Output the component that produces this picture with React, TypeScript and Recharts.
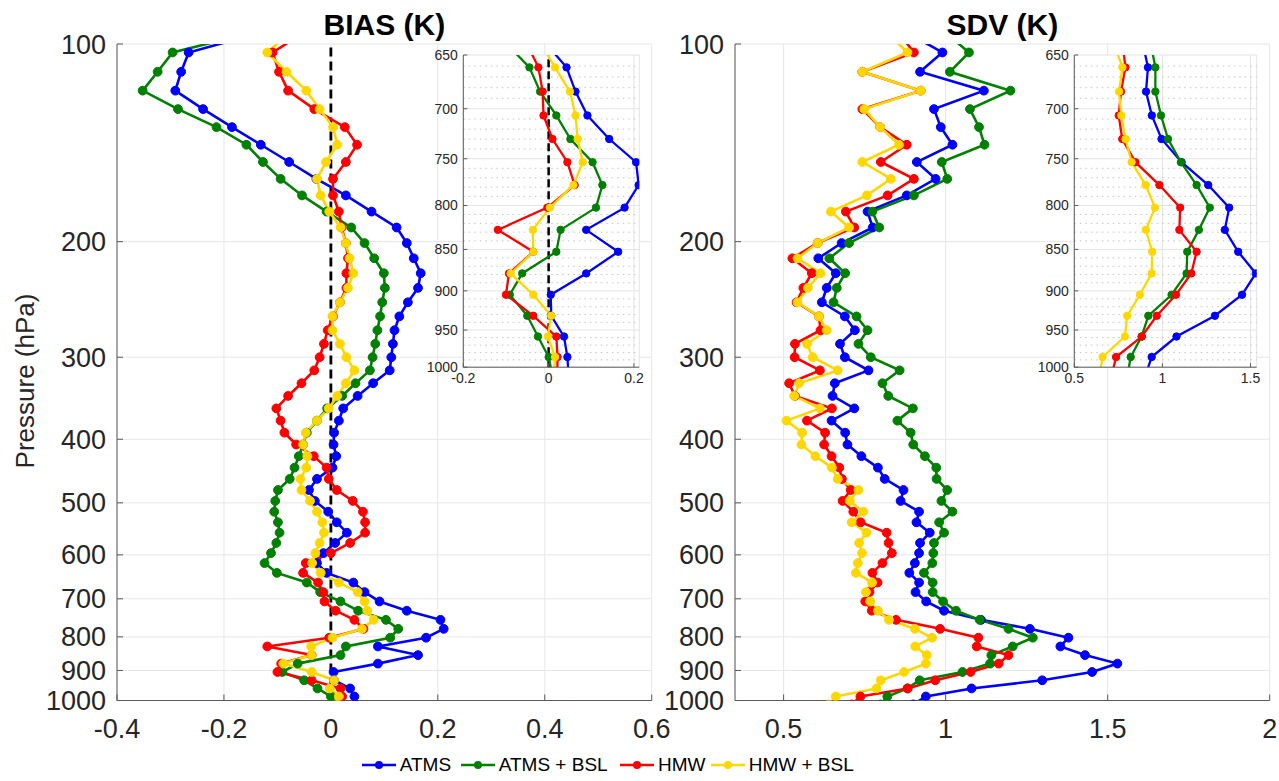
import React from "react";
import { CartesianGrid, Line, LineChart, ReferenceLine, XAxis, YAxis } from "recharts";

// pressure levels (hPa) shared by every profile
const LEVELS = [
  96.1138, 103.0172, 110.2366, 117.7775, 125.6456, 133.8462, 142.3848, 151.2664, 160.4959, 170.0784,
  180.0183, 190.3203, 200.9887, 212.0277, 223.4415, 235.2338, 247.4085, 259.9691, 272.9191, 286.2617,
  300.0, 314.1369, 328.6753, 343.6176, 358.9665, 374.7241, 390.8926, 407.4738, 424.4698, 441.8819,
  459.7118, 477.9607, 496.6298, 515.72, 535.2322, 555.1669, 575.5248, 596.3062, 617.5112, 639.1398,
  661.192, 683.6673, 706.5654, 729.8857, 753.6275, 777.7897, 802.3714, 827.3713, 852.788, 878.6201,
  904.8659, 931.5236, 958.5911, 986.0666, 1013.948,
];

const BIAS_ATMS = [
  -0.132, -0.266, -0.28, -0.291, -0.239, -0.185, -0.131, -0.078, -0.027, 0.028,
  0.076, 0.123, 0.142, 0.155, 0.168, 0.163, 0.144, 0.128, 0.119, 0.116,
  0.113, 0.11, 0.079, 0.05, 0.023, 0.015, 0.006, 0.005, 0.01, 0.003,
  -0.026, -0.041, -0.03, -0.005, 0.011, 0.03, 0.008, -0.014, -0.026, -0.008,
  0.042, 0.063, 0.091, 0.142, 0.205, 0.211, 0.178, 0.088, 0.163, 0.088,
  0.005, 0.006, 0.036, 0.044, 0.047,
];
const BIAS_ATMS_BSL = [
  -0.148, -0.296, -0.324, -0.352, -0.286, -0.214, -0.158, -0.127, -0.094, -0.054,
  -0.008, 0.038, 0.063, 0.081, 0.099, 0.101, 0.096, 0.092, 0.087, 0.083,
  0.078, 0.073, 0.046, 0.021, -0.007, -0.026, -0.045, -0.052, -0.06, -0.068,
  -0.077, -0.099, -0.104, -0.106, -0.099, -0.096, -0.102, -0.112, -0.124, -0.101,
  -0.045, -0.02, 0.018, 0.051, 0.103, 0.126, 0.111, 0.028, 0.018, -0.062,
  -0.091, -0.05, -0.025, 0.0, 0.01,
];
const BIAS_HMW = [
  -0.051, -0.109, -0.097, -0.08, -0.031, 0.026, 0.049, 0.028, 0.004, 0.004,
  0.015, 0.02, 0.028, 0.032, 0.029, 0.029, 0.017, 0.004, -0.006, -0.013,
  -0.021, -0.031, -0.055, -0.08, -0.102, -0.094, -0.087, -0.065, -0.032, -0.008,
  -0.004, 0.011, 0.041, 0.06, 0.064, 0.064, 0.036, 0.0, -0.047, -0.052,
  -0.024, -0.014, -0.012, 0.009, 0.044, 0.061, -0.003, -0.119, -0.036, -0.093,
  -0.1, -0.036, 0.018, 0.021, 0.02,
];
const BIAS_HMW_BSL = [
  -0.077, -0.119, -0.083, -0.046, -0.021, 0.004, 0.012, -0.009, -0.026, -0.019,
  -0.003, 0.018, 0.028, 0.035, 0.042, 0.032, 0.017, 0.003, 0.003, 0.017,
  0.029, 0.044, 0.028, 0.012, -0.004, -0.026, -0.047, -0.052, -0.044, -0.046,
  -0.057, -0.055, -0.039, -0.026, -0.016, -0.013, -0.021, -0.029, -0.035, -0.019,
  0.015, 0.05, 0.063, 0.068, 0.08, 0.058, 0.003, -0.037, -0.036, -0.089,
  -0.036, 0.006, -0.002, 0.015, 0.012,
];

const SDV_ATMS = [
  0.882, 0.99, 0.921, 1.118, 0.964, 0.985, 1.021, 0.911, 0.969, 0.88,
  0.759, 0.775, 0.679, 0.607, 0.661, 0.633, 0.618, 0.689, 0.72, 0.674,
  0.689, 0.762, 0.658, 0.651, 0.718, 0.648, 0.69, 0.697, 0.74, 0.791,
  0.812, 0.87, 0.861, 0.918, 0.91, 0.951, 0.921, 0.918, 0.905, 0.888,
  0.918, 0.907, 0.94, 0.995, 1.109, 1.26, 1.379, 1.354, 1.43, 1.53,
  1.452, 1.298, 1.08, 0.939, 0.9,
];
const SDV_ATMS_BSL = [
  1.0, 1.072, 1.013, 1.2, 1.075, 1.103, 1.12, 0.988, 1.005, 0.902,
  0.774, 0.795, 0.702, 0.641, 0.69, 0.664, 0.654, 0.725, 0.759, 0.731,
  0.769, 0.858, 0.805, 0.823, 0.899, 0.851, 0.892, 0.9, 0.936, 0.971,
  0.972, 1.005, 0.987, 1.021, 0.98, 0.995, 0.964, 0.962, 0.959, 0.933,
  0.96, 0.96, 0.992, 1.032, 1.105, 1.194, 1.269, 1.207, 1.141, 1.137,
  1.052, 0.92, 0.882, 0.82, 0.8,
];
const SDV_HMW = [
  0.855, 0.902, 0.743, 0.923, 0.743, 0.798, 0.88, 0.8, 0.902, 0.821,
  0.692, 0.718, 0.605, 0.527, 0.587, 0.561, 0.54, 0.609, 0.614, 0.535,
  0.534, 0.612, 0.517, 0.535, 0.649, 0.572, 0.628, 0.625, 0.648, 0.672,
  0.68, 0.707, 0.682, 0.715, 0.738, 0.818, 0.824, 0.834, 0.805, 0.774,
  0.79, 0.765, 0.752, 0.772, 0.847, 0.983, 1.101, 1.096, 1.194, 1.164,
  1.077, 0.968, 0.883, 0.737, 0.71,
];
const SDV_HMW_BSL = [
  0.82, 0.882, 0.743, 0.923, 0.749, 0.798, 0.856, 0.743, 0.831, 0.757,
  0.646, 0.702, 0.605, 0.543, 0.614, 0.575, 0.543, 0.609, 0.633, 0.572,
  0.59, 0.667, 0.548, 0.533, 0.612, 0.509, 0.557, 0.555, 0.598, 0.649,
  0.667, 0.731, 0.704, 0.746, 0.71, 0.756, 0.733, 0.742, 0.729, 0.723,
  0.773, 0.754, 0.767, 0.791, 0.825, 0.905, 0.958, 0.906, 0.942, 0.939,
  0.872, 0.8, 0.787, 0.661, 0.64,
];

const MAIN_P_TICKS = [100, 200, 300, 400, 500, 600, 700, 800, 900, 1000];
const INSET_P_TICKS = [650, 700, 750, 800, 850, 900, 950, 1000];
const INSET_P_MINOR = [
  660, 670, 680, 690, 710, 720, 730, 740, 760, 770, 780, 790, 810, 820,
  830, 840, 860, 870, 880, 890, 910, 920, 930, 940, 960, 970, 980, 990,
];
const BIAS_TICKS = [-0.4, -0.2, 0, 0.2, 0.4, 0.6];
const SDV_TICKS = [0.5, 1, 1.5, 2];
const BIAS_INSET_TICKS = [-0.2, 0, 0.2];
const SDV_INSET_TICKS = [0.5, 1, 1.5];

const SERIES = [
  { key: "atms", name: "ATMS", color: "#0000ff" },
  { key: "atmsBsl", name: "ATMS + BSL", color: "#008000" },
  { key: "hmw", name: "HMW", color: "#ff0000" },
  { key: "hmwBsl", name: "HMW + BSL", color: "#ffd700" },
];

const FONT = '"Liberation Sans", Arial, Helvetica, sans-serif';
const AXIS = "#5a5a5a";
const TEXT = "#262626";

function buildRows(a: number[], b: number[], c: number[], d: number[]) {
  return LEVELS.map((p, i) => ({ p, atms: a[i], atmsBsl: b[i], hmw: c[i], hmwBsl: d[i] }));
}

const biasRows = buildRows(BIAS_ATMS, BIAS_ATMS_BSL, BIAS_HMW, BIAS_HMW_BSL);
const sdvRows = buildRows(SDV_ATMS, SDV_ATMS_BSL, SDV_HMW, SDV_HMW_BSL);

function renderLines(strokeWidth: number, r: number) {
  return SERIES.map((s) => (
    <Line
      key={s.key}
      dataKey={s.key}
      name={s.name}
      stroke={s.color}
      strokeWidth={strokeWidth}
      dot={{ r, fill: s.color, stroke: s.color, strokeWidth: 1 }}
      activeDot={false}
      isAnimationActive={false}
    />
  ));
}

interface PanelProps {
  data: any[];
  left: number;
  xDomain: [number, number];
  xTicks: number[];
  zeroLine?: boolean;
}

function MainPanel({ data, left, xDomain, xTicks, zeroLine }: PanelProps) {
  const tickStyle = { fill: TEXT, fontSize: 27, fontFamily: FONT };
  return (
    <div style={{ position: "absolute", left, top: 0 }}>
      <LineChart
        width={680}
        height={750}
        data={data}
        layout="vertical"
        margin={{ top: 44, right: 28.3, left: 0, bottom: 9.5 }}
      >
        <CartesianGrid stroke="#e6e6e6" />
        <XAxis
          type="number"
          domain={xDomain}
          ticks={xTicks}
          allowDataOverflow
          interval={0}
          height={40}
          stroke={AXIS}
          tickSize={-6}
          tickMargin={24}
          tick={tickStyle}
          tickFormatter={(v) => String(v)}
        />
        <XAxis
          xAxisId="top"
          orientation="top"
          type="number"
          domain={xDomain}
          ticks={xTicks}
          allowDataOverflow
          height={0}
          stroke={AXIS}
          tickSize={-6}
          tick={false}
        />
        <YAxis
          type="number"
          dataKey="p"
          scale="log"
          domain={[100, 1000]}
          allowDataOverflow
          ticks={MAIN_P_TICKS}
          interval={0}
          width={117}
          stroke={AXIS}
          tickSize={-6}
          tickMargin={17}
          tick={tickStyle}
        />
        <YAxis
          yAxisId="right"
          orientation="right"
          type="number"
          scale="log"
          domain={[100, 1000]}
          allowDataOverflow
          ticks={MAIN_P_TICKS}
          width={0}
          stroke={AXIS}
          tickSize={-6}
          tick={false}
        />
        {zeroLine && <ReferenceLine x={0} stroke="#000" strokeWidth={2.8} strokeDasharray="9 5" />}
        {renderLines(2.6, 4.4)}
      </LineChart>
    </div>
  );
}

interface InsetProps extends PanelProps {
  width: number;
}

function InsetPanel({ data, left, width, xDomain, xTicks, zeroLine }: InsetProps) {
  const tickStyle = { fill: TEXT, fontSize: 14, fontFamily: FONT };
  return (
    <div style={{ position: "absolute", left, top: 42.5 }}>
      <LineChart
        width={width}
        height={349.2}
        data={data}
        layout="vertical"
        margin={{ top: 12, right: 4.7, left: 0, bottom: 0 }}
      >
        <CartesianGrid stroke="#e3e3e3" fill="#ffffff" fillOpacity={1} />
        {INSET_P_MINOR.map((v) => (
          <ReferenceLine key={v} y={v} stroke="#c4c4c4" strokeWidth={1} strokeDasharray="1.5 4" />
        ))}
        <XAxis
          type="number"
          domain={xDomain}
          ticks={xTicks}
          allowDataOverflow
          interval={0}
          height={25}
          stroke={AXIS}
          tickSize={-4}
          tickMargin={10}
          tick={tickStyle}
          tickFormatter={(v) => String(v)}
        />
        <XAxis
          xAxisId="top"
          orientation="top"
          type="number"
          domain={xDomain}
          ticks={xTicks}
          allowDataOverflow
          height={0}
          stroke={AXIS}
          tickSize={-4}
          tick={false}
        />
        <YAxis
          type="number"
          dataKey="p"
          scale="log"
          domain={[650, 1000]}
          allowDataOverflow
          ticks={INSET_P_TICKS}
          interval={0}
          width={50.3}
          stroke={AXIS}
          tickSize={-4}
          tickMargin={9.5}
          tick={tickStyle}
        />
        <YAxis
          yAxisId="right"
          orientation="right"
          type="number"
          scale="log"
          domain={[650, 1000]}
          allowDataOverflow
          ticks={INSET_P_TICKS}
          width={0}
          stroke={AXIS}
          tickSize={-4}
          tick={false}
        />
        {zeroLine && <ReferenceLine x={0} stroke="#000" strokeWidth={2.5} strokeDasharray="8 4" />}
        {renderLines(2.3, 3.7)}
      </LineChart>
    </div>
  );
}

function Legend() {
  const items = [361.7, 460.7, 620, 710.7];
  return (
    <>
      {SERIES.map((s, i) => (
        <div
          key={s.key}
          style={{
            position: "absolute",
            left: items[i],
            top: 753,
            height: 24,
            display: "flex",
            alignItems: "center",
            fontFamily: FONT,
            fontSize: 19,
            color: "#000",
            whiteSpace: "nowrap",
          }}
        >
          <svg width={34} height={12} style={{ marginRight: 4 }}>
            <line x1={0} y1={6} x2={34} y2={6} stroke={s.color} strokeWidth={2.6} />
            <circle cx={17} cy={6} r={4} fill={s.color} />
          </svg>
          <span>{s.name}</span>
        </div>
      ))}
    </>
  );
}

export default function App() {
  const title: React.CSSProperties = {
    position: "absolute",
    top: 10,
    width: 534.7,
    textAlign: "center",
    fontFamily: FONT,
    fontWeight: 700,
    fontSize: 30,
    lineHeight: "30px",
    color: "#000",
  };
  return (
    <div
      style={{
        position: "absolute",
        left: 0,
        top: 0,
        width: 1279,
        height: 781,
        background: "#fff",
        overflow: "hidden",
      }}
    >
      <MainPanel data={biasRows} left={0} xDomain={[-0.4, 0.6]} xTicks={BIAS_TICKS} zeroLine />
      <MainPanel data={sdvRows} left={618} xDomain={[0.35, 2]} xTicks={SDV_TICKS} />
      <InsetPanel
        data={biasRows}
        left={413}
        width={231}
        xDomain={[-0.2, 0.2125]}
        xTicks={BIAS_INSET_TICKS}
        zeroLine
      />
      <InsetPanel
        data={sdvRows}
        left={1024}
        width={237.4}
        xDomain={[0.5, 1.535]}
        xTicks={SDV_INSET_TICKS}
      />
      <div style={{ ...title, left: 117 }}>BIAS (K)</div>
      <div style={{ ...title, left: 735 }}>SDV (K)</div>
      <div
        style={{
          position: "absolute",
          left: 25,
          top: 381,
          transform: "translate(-50%, -50%) rotate(-90deg)",
          fontFamily: FONT,
          fontSize: 26,
          color: TEXT,
          whiteSpace: "nowrap",
        }}
      >
        Pressure (hPa)
      </div>
      <Legend />
    </div>
  );
}
